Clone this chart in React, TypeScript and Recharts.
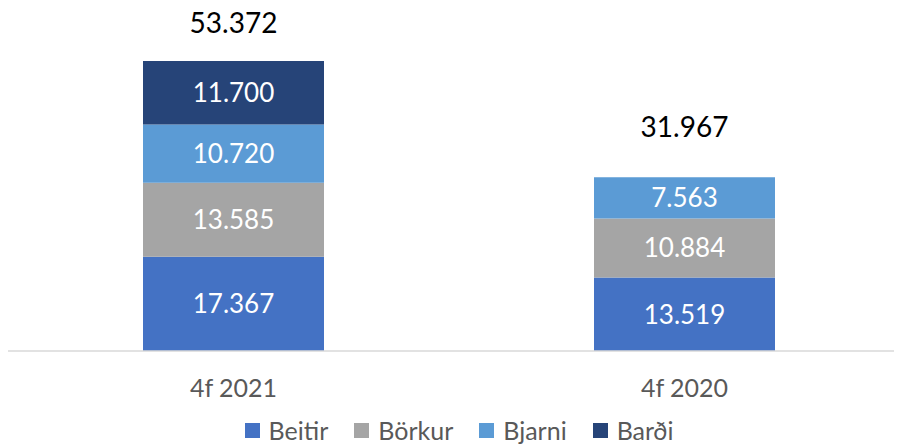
import React from 'react';
import { BarChart, Bar, XAxis, YAxis, LabelList, Legend } from 'recharts';

const categories = ['4f 2021', '4f 2020'];
const beitir = [17367, 13519];
const borkur = [13585, 10884];
const bjarni = [10720, 7563];
const bardi: (number | null)[] = [11700, null];
const totals = [53372, 31967];

const seriesNames = ['Beitir', 'Börkur', 'Bjarni', 'Barði'];
const seriesKeys = ['beitir', 'borkur', 'bjarni', 'bardi'];
const seriesValues = [beitir, borkur, bjarni, bardi];
const colors = ['#4472C4', '#A5A5A5', '#5B9BD5', '#264478'];
const totalLift = [38, 50];

const data = categories.map((c, i) => ({
  name: c,
  beitir: beitir[i],
  borkur: borkur[i],
  bjarni: bjarni[i],
  bardi: bardi[i],
}));

const FONT = 'Lato, "Open Sans", sans-serif';

const fmt = (v: number) => String(v).replace(/\B(?=(\d{3})+(?!\d))/g, '.');

const topSeries = (i: number) => {
  let top = 0;
  seriesValues.forEach((arr, s) => {
    if (arr[i] != null && (arr[i] as number) > 0) top = s;
  });
  return top;
};

const makeLabel = (s: number) => (props: any) => {
  const { x, y, width, height, index, value } = props;
  if (value == null || value === 0) return null;
  const cx = Number(x) + Number(width) / 2;
  const cy = Number(y) + Number(height) / 2;
  const isTop = topSeries(index) === s;
  return (
    <g>
      <text x={cx} y={cy} dy="0.36em" textAnchor="middle" fill="#FFFFFF" fontSize={26} fontFamily={FONT}>
        {fmt(value)}
      </text>
      {isTop && (
        <text x={cx} y={Number(y) - totalLift[index]} dy="0.36em" textAnchor="middle" fill="#000000" fontSize={28} fontFamily={FONT}>
          {fmt(totals[index])}
        </text>
      )}
    </g>
  );
};

const CategoryTick = (props: any) => {
  const { x, y, payload } = props;
  return (
    <text x={x} y={y + 29} dy="0.36em" textAnchor="middle" fill="#595959" fontSize={25} fontFamily={FONT}>
      {payload.value}
    </text>
  );
};

const LegendContent = () => (
  <div style={{ display: 'flex', justifyContent: 'center', alignItems: 'center', height: 24, fontFamily: FONT, fontSize: 25, lineHeight: '24px', color: '#595959', paddingLeft: 0 }}>
    {seriesNames.map((n, i) => (
      <div key={n} style={{ display: 'flex', alignItems: 'center', marginRight: i < seriesNames.length - 1 ? 26 : 0 }}>
        <span style={{ display: 'inline-block', width: 15, height: 15, background: colors[i], marginRight: 9 }} />
        <span>{n}</span>
      </div>
    ))}
  </div>
);

export default function App() {
  return (
    <div style={{ width: 902, height: 444, marginTop: -8 }}>
      <BarChart width={902} height={444} data={data} margin={{ top: 25, right: 0, left: 0, bottom: 24 }}>
        <XAxis dataKey="name" axisLine={{ stroke: '#D9D9D9', strokeWidth: 1.5 }} tickLine={false} tick={<CategoryTick />} height={45} interval={0} />
        <YAxis hide domain={[0, 60000]} />
        <Legend verticalAlign="bottom" content={<LegendContent />} wrapperStyle={{ top: 418, bottom: 'auto', left: 0, width: 902 }} />
        {seriesKeys.map((k, s) => (
          <Bar key={k} dataKey={k} name={seriesNames[s]} stackId="a" fill={colors[s]} barSize={181} isAnimationActive={false}>
            <LabelList dataKey={k} content={makeLabel(s)} />
          </Bar>
        ))}
      </BarChart>
    </div>
  );
}
